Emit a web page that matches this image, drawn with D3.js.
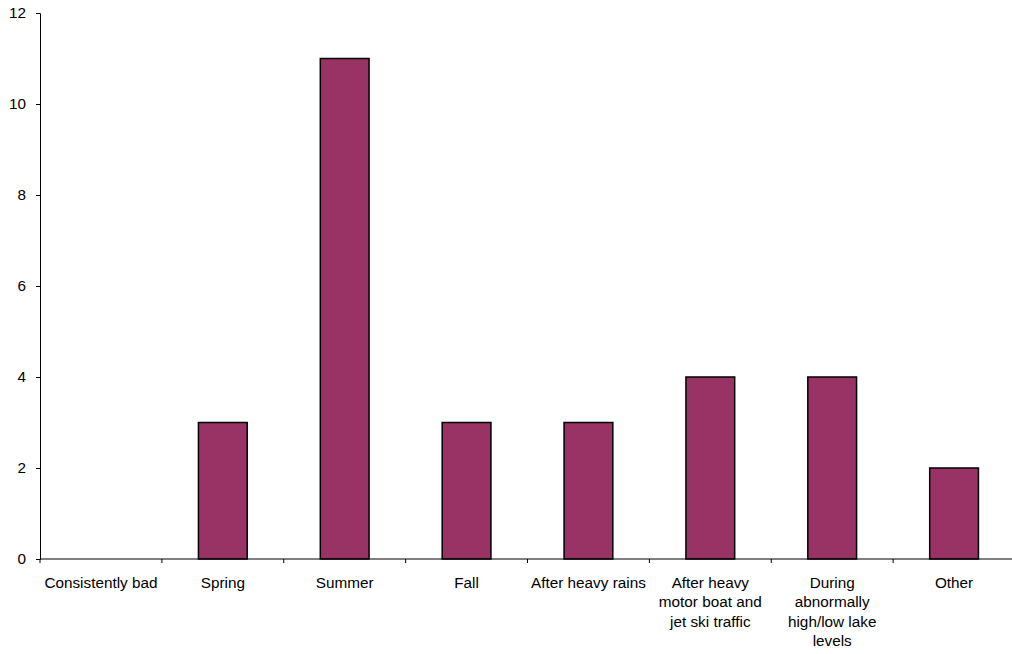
<!DOCTYPE html>
<html>
<head>
<meta charset="utf-8">
<script src="https://cdn.jsdelivr.net/npm/d3@7"></script>
<style>
  html, body { margin: 0; padding: 0; background: #fff; }
  svg { display: block; font-family: "Liberation Sans", Arial, sans-serif; }
</style>
</head>
<body>
<svg id="chart" width="1012" height="654"></svg>
<script>
// Survey responses: when water quality is worst
const categories = [
  "Consistently bad", "Spring", "Summer", "Fall", "After heavy rains",
  "After heavy motor boat and jet ski traffic",
  "During abnormally high/low lake levels", "Other"
];
const labelLines = [
  ["Consistently bad"], ["Spring"], ["Summer"], ["Fall"], ["After heavy rains"],
  ["After heavy", "motor boat and", "jet ski traffic"],
  ["During", "abnormally", "high/low lake", "levels"],
  ["Other"]
];
const counts = [0, 3, 11, 3, 3, 4, 4, 2];
const yTicks = [0, 2, 4, 6, 8, 10, 12];

const svg = d3.select("#chart");
const plot = { left: 40, right: 1015, top: 13, bottom: 559 };
const fontSize = 15.3;

const x = d3.scaleBand().domain(categories).range([plot.left, plot.right]).paddingInner(0).paddingOuter(0);
const y = d3.scaleLinear().domain([0, 12]).range([plot.bottom, plot.top]);
const barW = x.bandwidth() * 0.4;

// bars
svg.append("g").selectAll("rect")
  .data(categories.map((c, i) => ({ c, v: counts[i] })).filter(d => d.v > 0))
  .join("rect")
  .attr("x", d => x(d.c) + (x.bandwidth() - barW) / 2)
  .attr("y", d => y(d.v))
  .attr("width", barW)
  .attr("height", d => y(0) - y(d.v))
  .attr("fill", "#993366")
  .attr("stroke", "#000")
  .attr("stroke-width", 1.5);

// y axis
const yAxis = d3.axisLeft(y).tickValues(yTicks).tickSize(4).tickPadding(10).tickFormat(d3.format("d"));
svg.append("g")
  .attr("transform", `translate(${plot.left},0)`)
  .call(yAxis)
  .call(g => g.selectAll("text").attr("font-size", fontSize).attr("fill", "#000").attr("font-family", "Liberation Sans, Arial, sans-serif"))
  .call(g => g.selectAll("line, path").attr("stroke", "#000"));

// x axis with ticks at category boundaries
const xg = svg.append("g").attr("transform", `translate(0,${plot.bottom})`);
xg.append("line").attr("x1", plot.left).attr("x2", plot.right).attr("y1", 0).attr("y2", 0).attr("stroke", "#000");
const boundaries = categories.map(c => x(c)).concat([plot.right]);
xg.selectAll("line.tick").data(boundaries).join("line")
  .attr("class", "tick")
  .attr("x1", d => d).attr("x2", d => d)
  .attr("y1", 0).attr("y2", 4)
  .attr("stroke", "#000");

// category labels
const lab = xg.selectAll("text.cat").data(categories).join("text")
  .attr("class", "cat")
  .attr("text-anchor", "middle")
  .attr("font-size", fontSize)
  .attr("fill", "#000")
  .attr("x", d => x(d) + x.bandwidth() / 2)
  .attr("y", 29);
lab.each(function(d, i) {
  const t = d3.select(this);
  labelLines[i].forEach((line, j) => {
    t.append("tspan")
      .attr("x", x(d) + x.bandwidth() / 2)
      .attr("dy", j === 0 ? 0 : 19.4)
      .text(line);
  });
});
</script>
</body>
</html>
